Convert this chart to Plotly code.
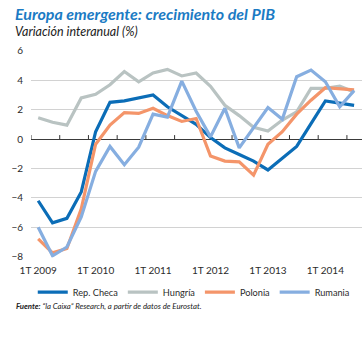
import plotly.graph_objects as go

# Quarterly GDP growth, year-on-year (%), 1T 2009 - 3T 2014
quarters = [f"{q}T {y}" for y in range(2009, 2015) for q in range(1, 5)][:23]

rep_checa = [-4.2, -5.7, -5.4, -3.6, 0.5, 2.5, 2.6, 2.8, 3.0, 2.2, 1.6, 1.0,
             0.1, -0.6, -1.05, -1.5, -2.1, -1.3, -0.5, 1.05, 2.6, 2.45, 2.3]
hungria = [1.45, 1.15, 0.95, 2.8, 3.05, 3.7, 4.6, 3.9, 4.5, 4.75, 4.3, 4.5,
           3.6, 2.3, 1.6, 0.8, 0.55, 1.3, 1.85, 3.45, 3.45, 3.6, 3.2]
polonia = [-6.8, -7.75, -7.45, -4.75, -0.35, 0.95, 1.8, 1.75, 2.1, 1.6, 1.2, 1.4,
           -1.15, -1.5, -1.55, -2.45, -0.35, 0.5, 1.7, 2.65, 3.5, 3.4, 3.35]
rumania = [-6.0, -7.95, -7.35, -5.3, -2.2, -0.5, -1.75, -0.55, 1.7, 1.5, 3.95, 1.9,
           0.15, 2.1, -0.6, 0.8, 2.15, 1.35, 4.25, 4.7, 3.9, 2.2, 3.3]

series_names = ["Rep. Checa", "Hungría", "Polonia", "Rumania"]
series_values = [rep_checa, hungria, polonia, rumania]
series_colors = ["#0b6db7", "#b9c3c2", "#f4956a", "#86aee0"]

tick_labels = [q for q in quarters if q.startswith("1T")]
y_ticks = [-8, -6, -4, -2, 0, 2, 4, 6]

FONT = "Lato"
TEXT = "#2b2b2b"

fig = go.Figure()
for name, vals, col in zip(series_names, series_values, series_colors):
    fig.add_trace(go.Scatter(
        x=quarters, y=vals, name=name, mode="lines",
        line=dict(color=col, width=3.2),
    ))

# small upward ticks on the zero line, every half year at quarter boundaries
for k in range(0, len(quarters), 2):
    fig.add_shape(
        type="line", xref="x", yref="y", x0=k - 0.5, x1=k - 0.5,
        ysizemode="pixel", yanchor=0, y0=0, y1=4,
        line=dict(color="#333333", width=1), layer="below",
    )

fig.update_layout(
    width=364, height=338,
    margin=dict(l=31, r=2, t=50, b=76),
    paper_bgcolor="white", plot_bgcolor="white",
    font=dict(family=FONT, color=TEXT, size=10),
    showlegend=True,
    legend=dict(
        orientation="h", xref="container", x=0.09, xanchor="left",
        yref="container", y=0.136, yanchor="middle",
        font=dict(size=9.2, color=TEXT), bgcolor="rgba(0,0,0,0)",
        itemwidth=30, tracegroupgap=0,
    ),
    xaxis=dict(
        type="category", range=[-0.5, 22.55],
        tickmode="array", tickvals=tick_labels, ticktext=tick_labels,
        showgrid=False, showline=False, zeroline=False, ticks="",
        ticklabelstandoff=5,
        tickfont=dict(size=10, color=TEXT),
    ),
    yaxis=dict(
        range=[-8.067, 6.067], tickvals=y_ticks,
        showgrid=True, gridcolor="#d2d2d2", gridwidth=1,
        zeroline=True, zerolinecolor="#3a3a3a", zerolinewidth=1,
        showline=False, ticks="", ticklabelstandoff=7,
        tickfont=dict(size=10, color=TEXT),
    ),
)

fig.add_annotation(
    xref="paper", yref="paper", x=-0.0544, y=1.177, xanchor="left", yanchor="middle",
    text="<b><i>Europa emergente: crecimiento del PIB</i></b>", showarrow=False,
    font=dict(family=FONT, size=16, color="#1b7bc4"),
)
fig.add_annotation(
    xref="paper", yref="paper", x=-0.0544, y=1.0896, xanchor="left", yanchor="middle",
    text="<i>Variación interanual (%)</i>", showarrow=False,
    font=dict(family=FONT, size=12.5, color="#222222"),
)
fig.add_annotation(
    xref="paper", yref="paper", x=-0.0514, y=-0.2344, xanchor="left", yanchor="middle",
    text="<i><b>Fuente:</b> “la Caixa” Research, a partir de datos de Eurostat.</i>",
    showarrow=False, font=dict(family=FONT, size=7.8, color="#222222"),
)

fig.write_html("out.html")
